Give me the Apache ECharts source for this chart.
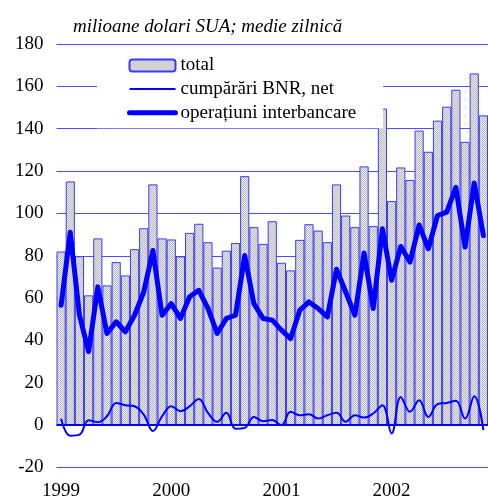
<!DOCTYPE html>
<html>
<head>
<meta charset="utf-8">
<script src="https://cdn.jsdelivr.net/npm/echarts@6/dist/echarts.min.js"></script>
<style>
html,body{margin:0;padding:0;background:#fff;width:488px;height:501px;overflow:hidden;}
#chart{width:488px;height:501px;overflow:hidden;}
</style>
</head>
<body>
<div id="chart"></div>
<script>
// Monthly categories Jan 1999 - Nov 2002
const categories = [];
const years = ["1999", "2000", "2001", "2002"];
for (const y of years) {
  for (let m = 1; m <= 12; m++) {
    categories.push(y + "-" + (m < 10 ? "0" + m : m));
  }
}
categories.length = 47;

const tickLabels = ["1999", "2000", "2001", "2002"];

const total = [
  82.0, 115.1, 79.8, 61.3, 88.2, 66.0, 77.0, 70.7, 83.1, 93.0, 113.7, 88.2,
  87.7, 79.7, 90.8, 95.1, 86.4, 74.4, 82.4, 86.0, 117.6, 93.5, 85.6, 96.3,
  76.7, 73.1, 87.5, 94.9, 91.9, 86.4, 113.7, 99.0, 93.5, 122.2, 94.0, 149.5,
  105.8, 121.7, 115.8, 139.1, 129.1, 143.8, 150.4, 158.4, 133.8, 166.1, 146.3
];

const cumparariBNR = [
  3.0, -5.0, -4.5, 2.3, 1.4, 4.2, 10.5, 9.4, 8.9, 5.0, -2.8, 4.2,
  8.9, 6.6, 8.9, 12.4, 5.8, 1.6, 5.8, -1.7, -1.3, 3.9, 1.9, 2.4,
  0.0, 6.3, 4.7, 5.2, 3.1, 4.7, 5.8, 1.6, 4.7, 3.6, 5.5, 9.4,
  -3.9, 13.3, 6.3, 11.8, 3.9, 9.9, 10.5, 11.5, 3.1, 13.6, -2.4
];

const interbancare = [
  56.6, 91.1, 51.9, 34.7, 65.3, 43.3, 48.8, 44.1, 51.9, 62.9, 82.5, 51.9,
  57.4, 50.4, 60.6, 63.7, 55.1, 43.3, 50.4, 51.9, 80.1, 57.4, 50.4, 49.6,
  44.9, 40.9, 54.3, 58.2, 55.1, 51.1, 73.6, 62.9, 51.9, 81.3, 55.1, 92.7,
  68.4, 84.4, 77.0, 94.5, 83.3, 99.0, 100.6, 112.3, 84.1, 114.4, 89.5
];

const seriesNames = ["total", "cumpărări BNR, net", "operațiuni interbancare"];

// dotted gray fill pattern for bars
const pc = document.createElement("canvas");
pc.width = 2; pc.height = 2;
const pctx = pc.getContext("2d");
pctx.fillStyle = "#e8e8e8"; pctx.fillRect(0, 0, 2, 2);
pctx.fillStyle = "#bcbcbc"; pctx.fillRect(0, 0, 1, 1); pctx.fillRect(1, 1, 1, 1);
const barFill = { image: pc, repeat: "repeat" };

const chart = echarts.init(document.getElementById("chart"), null, { renderer: "canvas", width: 488, height: 501 });
const serif = "'Liberation Serif', 'Times New Roman', serif";
const hidden = { color: "rgba(0,0,0,0)", borderWidth: 0, opacity: 0 };

chart.setOption({
  animation: false,
  backgroundColor: "#ffffff",
  title: {
    text: "milioane dolari SUA; medie zilnică",
    left: 68,
    top: 12,
    textStyle: { fontFamily: serif, fontStyle: "italic", fontWeight: "normal", fontSize: 19, color: "#000" }
  },
  legend: {
    orient: "vertical",
    left: 97,
    top: 50,
    padding: [5.5, 27, 5.5, 30],
    backgroundColor: "#ffffff",
    itemWidth: 46,
    itemHeight: 12,
    itemGap: 3.6,
    textStyle: { fontFamily: serif, fontSize: 19, color: "#000", lineHeight: 20 },
    data: [
      seriesNames[0],
      { name: seriesNames[1], itemStyle: hidden, lineStyle: { width: 2, color: "#0000ff" } },
      { name: seriesNames[2], itemStyle: hidden, lineStyle: { width: 5, color: "#0000ff", cap: "round" } }
    ]
  },
  grid: { left: 56.5, top: 44, width: 432.5, height: 425, containLabel: false },
  xAxis: {
    type: "category",
    data: categories,
    boundaryGap: true,
    axisLine: { show: false },
    axisTick: { show: false },
    axisLabel: {
      interval: function (idx) { return idx % 12 === 0; },
      formatter: function (v, idx) { return tickLabels[Math.floor(idx / 12)]; },
      fontFamily: serif, fontSize: 19, lineHeight: 14, color: "#000", margin: 17
    },
    splitLine: { show: false }
  },
  yAxis: {
    type: "value",
    min: -20, max: 180, interval: 20,
    axisLine: { show: false },
    axisTick: { show: false },
    axisLabel: { fontFamily: serif, fontSize: 19, color: "#000", margin: 13 },
    splitLine: { show: true, lineStyle: { color: "#4d4dff", width: 1 } }
  },
  series: [
    {
      name: seriesNames[0],
      type: "bar",
      data: total,
      barCategoryGap: "0%",
      itemStyle: { color: barFill, borderColor: "#3a3aff", borderWidth: 1 },
      markLine: {
        silent: true, symbol: "none", label: { show: false },
        lineStyle: { color: "#0000ff", width: 2, type: "solid" },
        data: [{ yAxis: 0 }]
      },
      z: 2
    },
    {
      name: seriesNames[1],
      type: "line",
      data: cumparariBNR,
      smooth: 0.4,
      symbol: "none",
      lineStyle: { color: "#0000ff", width: 2 },
      itemStyle: { color: "#0000ff" },
      z: 4
    },
    {
      name: seriesNames[2],
      type: "line",
      data: interbancare,
      smooth: false,
      symbol: "none",
      lineStyle: { color: "#0000ff", width: 5, join: "round", cap: "round" },
      itemStyle: { color: "#0000ff" },
      z: 5
    }
  ]
});
</script>
</body>
</html>
